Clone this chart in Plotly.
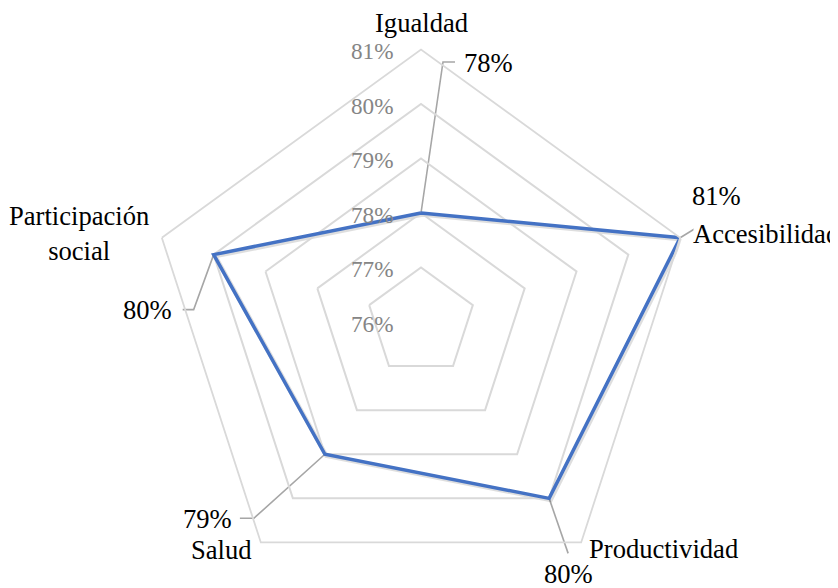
import math
import plotly.graph_objects as go

# ---------------- data ----------------
categories = ["Igualdad", "Accesibilidad", "Productividad", "Salud", "Participación social"]
category_labels = ["Igualdad", "Accesibilidad", "Productividad", "Salud", "Participación<br>social"]
values = [78, 81, 80, 79, 80]
radial_ticks = [76, 77, 78, 79, 80, 81]
tick_labels = ["76%", "77%", "78%", "79%", "80%", "81%"]
R_MIN, R_MAX = 76, 81

# ---------------- layout geometry / style ----------------
W, H = 838, 588
PAGE_MARGIN = 8                       # default body margin of the html page
CX = 421 - PAGE_MARGIN                # polar centre in figure px
CY = 322 - PAGE_MARGIN
RPX = 272.5                           # polar radius in px
SHADOW_DX, SHADOW_DY = 1.5, 1.5       # soft line shadow offset (px)
PX_PER_UNIT = RPX / (R_MAX - R_MIN)
FONT = "Liberation Serif, Times New Roman, serif"
GRID = "#d9d9d9"
LEADER = "#a6a6a6"
BLUE = "#4472C4"
TICK_COLOR = "#858585"


def domain(cx, cy):
    return ([(cx - RPX) / W, (cx + RPX) / W],
            [max(0.0, (H - (cy + RPX)) / H), min(1.0, (H - (cy - RPX)) / H)])


dom_x, dom_y = domain(CX, CY)
sh_x, sh_y = domain(CX + SHADOW_DX, CY + SHADOW_DY)

# per-category label styling (pixel offsets, screen coords: +x right, +y down)
leader_offsets = [[(22, -151), (34, -151)], [(37, -23)], [(19, 55)],
                  [(-71, 64), (-85, 64)], [(-20, 55), (-31, 55)]]
value_label_style = [("left", 41, -150), ("center", 36.5, -42), ("center", 19.5, 76),
                     ("right", -91, 65), ("right", -40, 55)]
cat_label_style = [("center", 0, -26.6), ("left", 11, -3.6), ("left", 6, 7),
                   ("right", -7, 8), ("right", -11, -4)]

n = len(categories)
angles = [2 * math.pi * i / n for i in range(n)]   # clockwise from top


def to_xy(r, ang):
    d = r - R_MIN
    return d * math.sin(ang), d * math.cos(ang)


fig = go.Figure()

# leader lines (cartesian overlay matched to the polar scale)
lx, ly = [], []
for v, a, offs in zip(values, angles, leader_offsets):
    x0, y0 = to_xy(v, a)
    lx.append(x0)
    ly.append(y0)
    for dx, dy in offs:
        lx.append(x0 + dx / PX_PER_UNIT)
        ly.append(y0 - dy / PX_PER_UNIT)
    lx.append(None)
    ly.append(None)
fig.add_trace(go.Scatter(x=lx, y=ly, mode="lines",
                         line=dict(color=LEADER, width=1.6),
                         hoverinfo="skip", showlegend=False))

closed_r = values + [values[0]]
closed_theta = categories + [categories[0]]

# soft shadow of the series (same data on an offset, invisible polar subplot)
fig.add_trace(go.Scatterpolar(
    r=closed_r, theta=closed_theta, subplot="polar",
    mode="lines", line=dict(color="rgba(0,0,0,0.13)", width=4.5),
    hoverinfo="skip", showlegend=False))

# radar series
fig.add_trace(go.Scatterpolar(
    r=closed_r, theta=closed_theta, subplot="polar2",
    mode="lines", line=dict(color=BLUE, width=3.5),
    showlegend=False, name="Serie"))

annotations = []
# value labels
for v, a, (anc, dx, dy) in zip(values, angles, value_label_style):
    x0, y0 = to_xy(v, a)
    annotations.append(dict(x=x0, y=y0, xref="x", yref="y", text=f"{v:.0f}%",
                            showarrow=False, xanchor=anc, yanchor="middle",
                            xshift=dx, yshift=-dy,
                            font=dict(family=FONT, size=26.6, color="#000000")))
# category labels
for lab, a, (anc, dx, dy) in zip(category_labels, angles, cat_label_style):
    x0, y0 = to_xy(R_MAX, a)
    annotations.append(dict(x=x0, y=y0, xref="x", yref="y", text=lab,
                            showarrow=False, xanchor=anc, yanchor="middle",
                            align="center", xshift=dx, yshift=-dy,
                            font=dict(family=FONT, size=26.6, color="#000000")))
# radial tick labels
for t, lab in zip(radial_ticks, tick_labels):
    x0, y0 = to_xy(t, 0)
    annotations.append(dict(x=x0, y=y0, xref="x", yref="y", text=lab,
                            showarrow=False, xanchor="right", yanchor="middle",
                            xshift=-25, yshift=-1.5,
                            font=dict(family=FONT, size=23.2, color=TICK_COLOR)))

span = R_MAX - R_MIN
hidden_angular = dict(type="category", categoryarray=categories, rotation=90,
                      direction="clockwise", visible=False)
hidden_radial = dict(range=[R_MIN, R_MAX], visible=False)

fig.update_layout(
    width=W, height=H,
    margin=dict(l=0, r=0, t=0, b=0),
    paper_bgcolor="white", plot_bgcolor="rgba(0,0,0,0)",
    showlegend=False,
    xaxis=dict(domain=dom_x, range=[-span, span], visible=False, fixedrange=True),
    yaxis=dict(domain=dom_y, range=[-span, span], visible=False, fixedrange=True),
    polar=dict(domain=dict(x=sh_x, y=sh_y), gridshape="linear",
               bgcolor="rgba(0,0,0,0)",
               angularaxis=hidden_angular, radialaxis=hidden_radial),
    polar2=dict(
        domain=dict(x=dom_x, y=dom_y),
        gridshape="linear",
        bgcolor="rgba(0,0,0,0)",
        angularaxis=dict(type="category", categoryarray=categories, rotation=90,
                         direction="clockwise", showgrid=False, showline=True,
                         linecolor=GRID, linewidth=1.8, ticks="",
                         showticklabels=False),
        radialaxis=dict(range=[R_MIN, R_MAX], tickvals=radial_ticks,
                        showgrid=True, gridcolor=GRID, gridwidth=1.8,
                        showline=False, ticks="", showticklabels=False),
    ),
    annotations=annotations,
)

fig.write_html("out.html")
